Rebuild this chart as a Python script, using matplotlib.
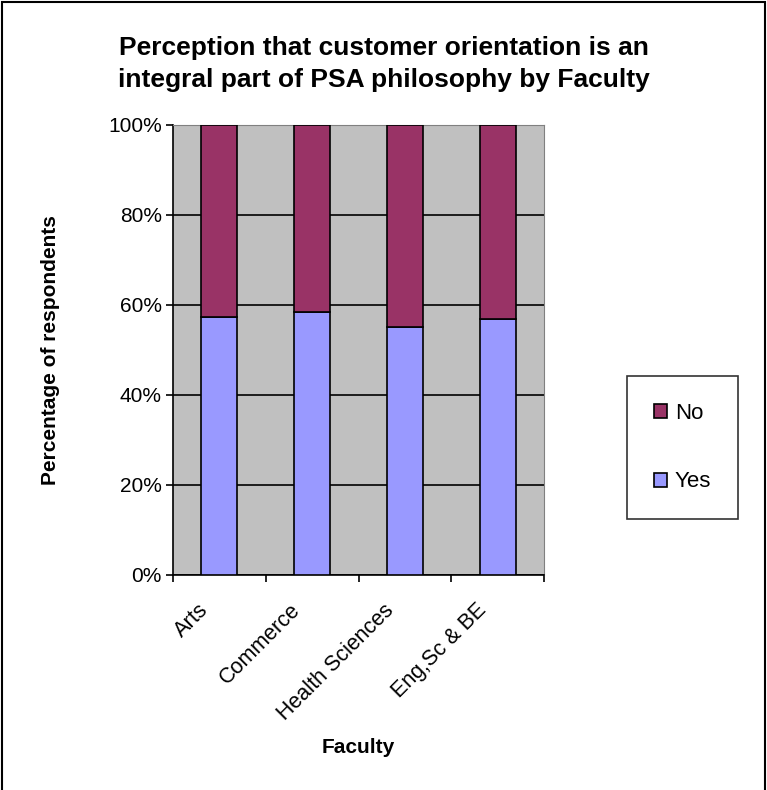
import matplotlib.pyplot as plt
from matplotlib.patches import Rectangle
from matplotlib.ticker import FuncFormatter
from matplotlib.transforms import ScaledTranslation

# data (percent of respondents)
faculties = ["Arts", "Commerce", "Health Sciences", "Eng,Sc & BE"]
yes_pct = [57.3, 58.4, 55.1, 56.9]
no_pct = [100 - v for v in yes_pct]

plt.rcParams['font.family'] = ['Liberation Sans', 'DejaVu Sans']

fig = plt.figure(figsize=(7.67, 7.9), dpi=100)
ax = fig.add_axes([0.2256, 0.2722, 0.4837, 0.5696])

x = list(range(len(faculties)))
ax.bar(x, yes_pct, width=0.39, color='#9999FF', edgecolor='black', linewidth=1.2, label='Yes', zorder=3)
ax.bar(x, no_pct, width=0.39, bottom=yes_pct, color='#993366', edgecolor='black', linewidth=1.2, label='No', zorder=3)

ax.set_facecolor('#C0C0C0')
ax.set_xlim(-0.5, len(faculties) - 0.5)
ax.set_ylim(0, 100)
ax.set_yticks(range(0, 101, 20))
ax.yaxis.set_major_formatter(FuncFormatter(lambda v, p: f"{int(v)}%"))
ax.grid(axis='y', color='black', linewidth=1.2, zorder=1)

# category boundary ticks like the original
ax.set_xticks([i - 0.5 for i in range(len(faculties) + 1)])
ax.set_xticklabels([])
ax.set_xticks(x, minor=True)
ax.set_xticklabels(faculties, minor=True, rotation=45, ha='right', va='top',
                   rotation_mode='anchor', fontsize=15.5)
ax.tick_params(axis='x', which='minor', length=0, pad=18)
ax.tick_params(axis='x', which='major', length=5, width=1.2, direction='out')
ax.tick_params(axis='y', length=5, width=1.2, labelsize=15, pad=3)
shift = ScaledTranslation(-22 / 100, 0, fig.dpi_scale_trans)
for lab in ax.get_xticklabels(minor=True):
    lab.set_transform(lab.get_transform() + shift)

for side in ['top', 'right']:
    ax.spines[side].set_color('#808080')
for side in ['left', 'bottom']:
    ax.spines[side].set_linewidth(1.2)

ax.set_ylabel("Percentage of respondents", fontsize=15, fontweight='bold')
ax.yaxis.set_label_coords(-0.305, 0.5)
ax.set_xlabel("Faculty", fontsize=15, fontweight='bold')
ax.xaxis.set_label_coords(0.5, -0.362)

fig.text(0.5, 1 - 64 / 790,
         "Perception that customer orientation is an\nintegral part of PSA philosophy by Faculty",
         ha='center', va='center', fontsize=19, fontweight='bold', linespacing=1.45)

handles, labels = ax.get_legend_handles_labels()
leg = fig.legend(handles[::-1], labels[::-1], loc='upper left',
                 bbox_to_anchor=(627 / 767, 1 - 376 / 790), fontsize=16,
                 frameon=True, fancybox=False, edgecolor='black',
                 labelspacing=2.15, handlelength=0.6, handleheight=0.6,
                 borderpad=1.2, handletextpad=0.35, borderaxespad=0)
leg.get_frame().set_linewidth(1.2)

fig.patches.append(Rectangle((0.003, -0.01), 0.994, 1.007, transform=fig.transFigure,
                             fill=False, edgecolor='black', linewidth=1.5))

fig.savefig("out.png", dpi=100)
